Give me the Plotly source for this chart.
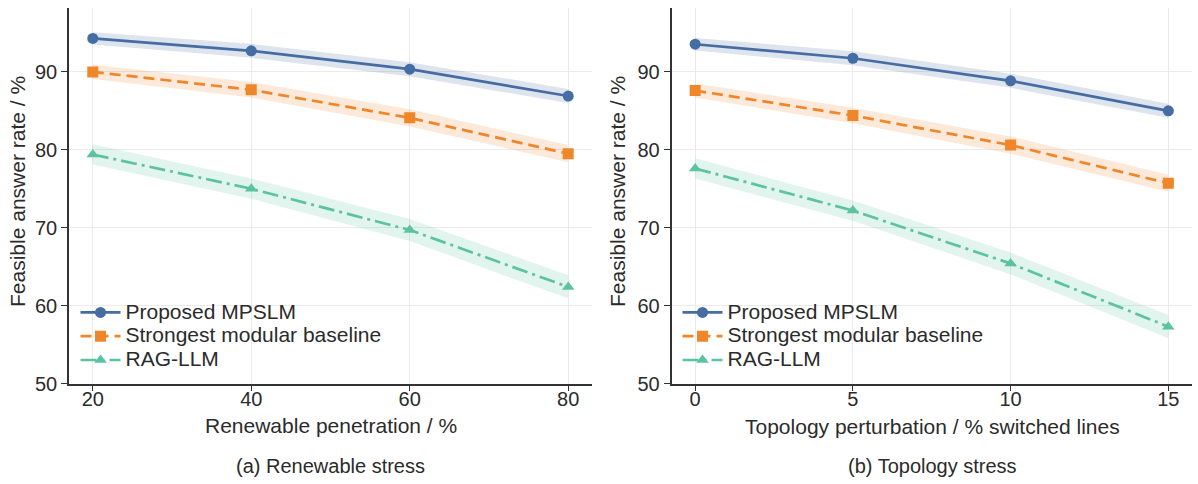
import plotly.graph_objects as go

# ---- data ----
x_renew = [20, 40, 60, 80]
x_topo = [0, 5, 10, 15]

proposed_a = [94.3, 92.7, 90.35, 86.9]
baseline_a = [90.0, 87.7, 84.1, 79.5]
rag_a = [79.4, 75.0, 69.7, 62.4]

proposed_b = [93.55, 91.75, 88.85, 85.0]
baseline_b = [87.6, 84.4, 80.6, 75.7]
rag_b = [77.6, 72.2, 65.4, 57.3]

# band half-widths (uncertainty)
proposed_a_err = [0.8, 0.9, 0.9, 0.9]
baseline_a_err = [0.9, 1.0, 1.1, 1.1]
rag_a_err = [1.3, 1.3, 1.4, 1.5]
proposed_b_err = [0.8, 0.9, 0.9, 0.9]
baseline_b_err = [0.9, 1.0, 1.1, 1.1]
rag_b_err = [1.3, 1.3, 1.4, 1.5]

series_names = ["Proposed MPSLM", "Strongest modular baseline", "RAG-LLM"]
x_ticks_a = [20, 40, 60, 80]
x_ticks_b = [0, 5, 10, 15]
y_ticks = [50, 60, 70, 80, 90]

colors = ["#456ca3", "#f0862a", "#5cc3a0"]
fills = ["rgba(69,108,163,0.18)", "rgba(240,134,42,0.18)", "rgba(92,195,160,0.18)"]
dashes = ["solid", "11px,6px", "16px,5px,3px,5px"]
symbols = ["circle", "square", "triangle-up"]

FONT = "Liberation Sans, Arial, sans-serif"
TXT = "#2b2b2b"
W, H = 1198, 484

fig = go.Figure()


def add_panel(xs, ys_list, errs_list, xa, ya, legend):
    for i, (ys, es) in enumerate(zip(ys_list, errs_list)):
        lo = [y - e for y, e in zip(ys, es)]
        hi = [y + e for y, e in zip(ys, es)]
        fig.add_trace(go.Scatter(x=xs + xs[::-1], y=hi + lo[::-1], mode="lines",
                                 fill="toself", fillcolor=fills[i], line=dict(width=0),
                                 hoverinfo="skip", showlegend=False,
                                 xaxis=xa, yaxis=ya))
    for i, ys in enumerate(ys_list):
        fig.add_trace(go.Scatter(x=xs, y=ys, mode="lines+markers",
                                 name='<span style="font-size:21px">' + series_names[i] + "</span>",
                                 line=dict(color=colors[i], width=2.7, dash=dashes[i]),
                                 marker=dict(symbol=symbols[i], size=11, color=colors[i]),
                                 xaxis=xa, yaxis=ya, legend=legend))


add_panel(x_renew, [proposed_a, baseline_a, rag_a],
          [proposed_a_err, baseline_a_err, rag_a_err], "x", "y", "legend")
add_panel(x_topo, [proposed_b, baseline_b, rag_b],
          [proposed_b_err, baseline_b_err, rag_b_err], "x2", "y2", "legend2")

axis_common = dict(showline=True, linecolor="#333333", linewidth=1.5,
                   ticks="outside", ticklen=6, tickwidth=1.2, tickcolor="#333333",
                   showgrid=True, gridcolor="#ebebeb", gridwidth=1, zeroline=False,
                   tickfont=dict(family=FONT, size=20, color=TXT), mirror=False,
                   automargin=False)
xaxis_extra = dict(ticklabelstandoff=-9)

ydom = [1 - 383.5 / H, 1 - 8 / H]
legend_common = dict(xanchor="left", yanchor="top", bgcolor="rgba(0,0,0,0)",
                     font=dict(family=FONT, size=16, color=TXT), tracegroupgap=0,
                     itemwidth=40)
fig.update_layout(
    width=W, height=H, autosize=False,
    margin=dict(l=0, r=0, t=0, b=0),
    paper_bgcolor="white", plot_bgcolor="white",
    font=dict(family=FONT, color=TXT),
    xaxis=dict(domain=[69 / W, 592 / W], range=[17, 83], tickvals=x_ticks_a, anchor="y",
               **axis_common, **xaxis_extra),
    yaxis=dict(domain=ydom, range=[50, 98.2], tickvals=y_ticks, anchor="x", **axis_common),
    xaxis2=dict(domain=[671.5 / W, 1192 / W], range=[-0.75, 15.75], tickvals=x_ticks_b, anchor="y2",
                **axis_common, **xaxis_extra),
    yaxis2=dict(domain=ydom, range=[50, 98.2], tickvals=y_ticks, anchor="x2", **axis_common),
    legend=dict(x=75.5 / W, y=1 - 295.5 / H, **legend_common),
    legend2=dict(x=677.5 / W, y=1 - 295.5 / H, **legend_common),
    showlegend=True,
)

ann = [
    dict(text="Feasible answer rate / %", x=17 / W, y=1 - 192 / H, textangle=-90, size=21),
    dict(text="Feasible answer rate / %", x=617 / W, y=1 - 192 / H, textangle=-90, size=21),
    dict(text="Renewable penetration / %", x=330.5 / W, y=1 - 425 / H, size=21),
    dict(text="Topology perturbation / % switched lines", x=932 / W, y=1 - 426 / H, size=21),
    dict(text="(a) Renewable stress", x=330 / W, y=1 - 466 / H, size=20),
    dict(text="(b) Topology stress", x=932 / W, y=1 - 466 / H, size=20),
]
for a in ann:
    size = a.pop("size")
    fig.add_annotation(xref="paper", yref="paper", showarrow=False,
                       xanchor="center", yanchor="middle",
                       font=dict(family=FONT, size=size, color=TXT), **a)

fig.write_html("out.html", config={"displayModeBar": False},
               post_script="document.body.style.margin='0';document.body.style.overflow='hidden';")
